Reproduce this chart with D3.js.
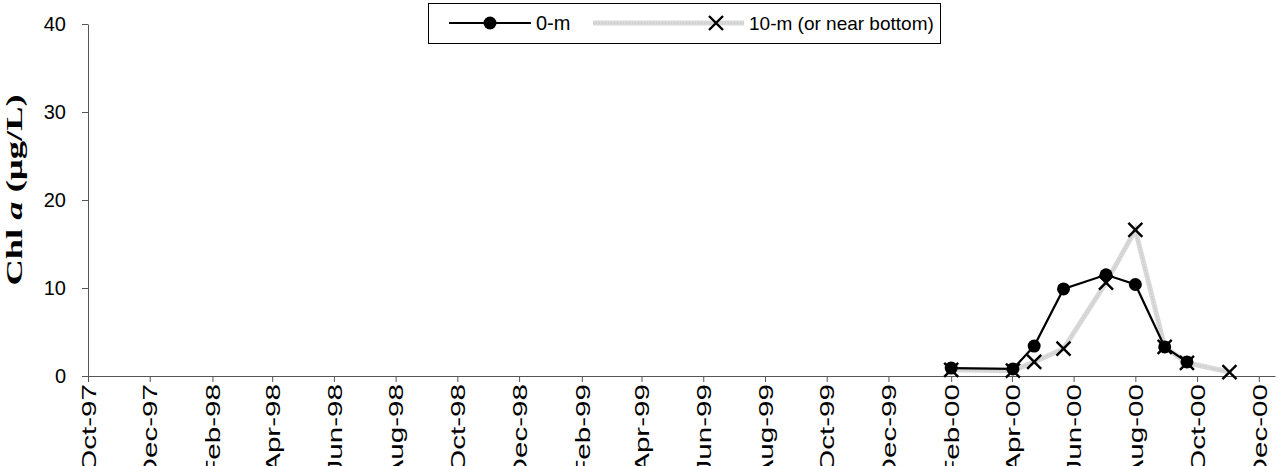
<!DOCTYPE html>
<html>
<head>
<meta charset="utf-8">
<script src="https://cdn.jsdelivr.net/npm/d3@7"></script>
<style>
  html, body { margin: 0; padding: 0; background: #fff; }
  svg { display: block; }
</style>
</head>
<body>
<svg id="chart" width="1280" height="466"></svg>
<script>
// ---- data ----
const tickDates = ["1997-10-01","1997-12-01","1998-02-01","1998-04-01","1998-06-01","1998-08-01",
  "1998-10-01","1998-12-01","1999-02-01","1999-04-01","1999-06-01","1999-08-01","1999-10-01",
  "1999-12-01","2000-02-01","2000-04-01","2000-06-01","2000-08-01","2000-10-01","2000-12-01"];
const yTicks = [0, 10, 20, 30, 40];

const surfaceDates = ["2000-02-01","2000-04-02","2000-04-23","2000-05-22","2000-07-03","2000-08-01","2000-08-30","2000-09-21"];
const surfaceValues = [0.9, 0.8, 3.4, 9.9, 11.5, 10.4, 3.3, 1.6];

const bottomDates = ["2000-02-01","2000-04-02","2000-04-23","2000-05-22","2000-07-03","2000-08-01","2000-08-30","2000-09-21","2000-11-02"];
const bottomValues = [0.7, 0.6, 1.6, 3.1, 10.6, 16.6, 3.3, 1.5, 0.45];

const seriesNames = ["0-m", "10-m (or near bottom)"];

// ---- setup ----
const parse = d3.utcParse("%Y-%m-%d");
const fmt = d3.utcFormat("%b-%y");
const svg = d3.select("#chart");

const x = d3.scaleUtc()
  .domain([parse("1997-10-01"), parse("2000-12-17")])
  .range([88, 1275]);
const y = d3.scaleLinear().domain([0, 40]).range([376, 24]);

const axisColor = "#555";
const sans = "Liberation Sans, Arial, sans-serif";

// y axis
const yAxis = svg.append("g").attr("transform", "translate(88,0)")
  .call(d3.axisLeft(y).tickValues(yTicks).tickSize(6).tickSizeOuter(0).tickPadding(16).tickFormat(d3.format("d")));
yAxis.select(".domain").attr("stroke", axisColor);
yAxis.selectAll(".tick line").attr("stroke", axisColor);
yAxis.selectAll("text").attr("font-family", sans)
  .attr("font-size", 20).attr("fill", "#000");

// x axis
const xAxis = svg.append("g").attr("transform", "translate(0,376)")
  .call(d3.axisBottom(x).tickValues(tickDates.map(parse)).tickSize(6).tickSizeOuter(0).tickFormat(fmt));
xAxis.select(".domain").attr("stroke", axisColor);
xAxis.selectAll(".tick line").attr("stroke", axisColor);
xAxis.selectAll("text")
  .attr("font-family", sans)
  .attr("font-size", 20).attr("fill", "#000")
  .attr("text-anchor", "end")
  .attr("x", 0).attr("y", 0).attr("dy", "0.36em")
  .attr("transform", "translate(0,8) rotate(-90) scale(1.48,1)");

// y title (stretched along its length like the original)
const yt = svg.append("text")
  .attr("transform", "translate(22,190) rotate(-90) scale(1.52,1)")
  .attr("text-anchor", "middle")
  .attr("font-family", "Liberation Serif, Times New Roman, serif")
  .attr("font-weight", "bold").attr("font-size", 24).attr("fill", "#000");
yt.append("tspan").text("Chl ");
yt.append("tspan").attr("font-style", "italic").text("a");
yt.append("tspan").text("  (µg/L)");

// ---- series ----
const surf = surfaceDates.map((d, i) => ({ d: parse(d), v: surfaceValues[i] }));
const bot = bottomDates.map((d, i) => ({ d: parse(d), v: bottomValues[i] }));
const line = d3.line().x(p => x(p.d)).y(p => y(p.v));

function xMark(g, cx, cy, s) {
  g.append("path")
    .attr("d", `M${cx - s},${cy - s}L${cx + s},${cy + s}M${cx - s},${cy + s}L${cx + s},${cy - s}`)
    .attr("stroke", "#000").attr("stroke-width", 2.4).attr("fill", "none");
}
function grayLine(sel) {
  sel.attr("fill", "none").attr("stroke", "#d9d9d9").attr("stroke-width", 5);
}
function grayDots(sel) {
  sel.attr("fill", "none").attr("stroke", "#c4c4c4").attr("stroke-width", 1.2)
    .attr("stroke-dasharray", "1,2");
}

// bottom series line (light gray, dotted texture)
svg.append("path").datum(bot).attr("d", line).call(grayLine);
svg.append("path").datum(bot).attr("d", line).call(grayDots);
// surface line
svg.append("path").datum(surf).attr("d", line)
  .attr("fill", "none").attr("stroke", "#000").attr("stroke-width", 2.2);

const gBot = svg.append("g");
bot.forEach(p => xMark(gBot, x(p.d), y(p.v), 7));

svg.append("g").selectAll("circle").data(surf).join("circle")
  .attr("cx", p => x(p.d)).attr("cy", p => y(p.v)).attr("r", 6.5).attr("fill", "#000");

// ---- legend ----
const lg = svg.append("g");
lg.append("rect").attr("x", 428.5).attr("y", 3.5).attr("width", 512).attr("height", 40)
  .attr("fill", "#fff").attr("stroke", "#000").attr("stroke-width", 1);
const ly = 23;
lg.append("line").attr("x1", 449).attr("x2", 531).attr("y1", ly).attr("y2", ly)
  .attr("stroke", "#000").attr("stroke-width", 2.2);
lg.append("circle").attr("cx", 490).attr("cy", ly).attr("r", 6.5).attr("fill", "#000");
lg.append("text").attr("x", 536).attr("y", ly).attr("dy", "0.36em")
  .attr("font-family", sans).attr("font-size", 20).text(seriesNames[0]);
lg.append("line").attr("x1", 593).attr("x2", 744).attr("y1", ly).attr("y2", ly).call(grayLine);
lg.append("line").attr("x1", 593).attr("x2", 744).attr("y1", ly).attr("y2", ly).call(grayDots);
xMark(lg, 716, ly, 7);
lg.append("text").attr("x", 749).attr("y", ly).attr("dy", "0.36em")
  .attr("font-family", sans).attr("font-size", 19).text(seriesNames[1]);
</script>
</body>
</html>
